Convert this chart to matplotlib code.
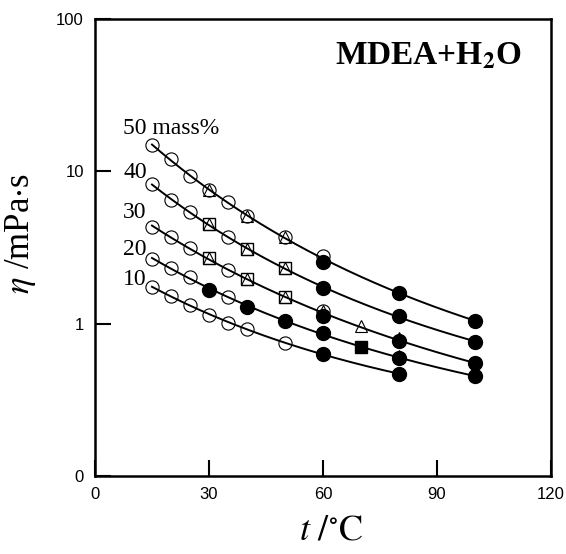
import matplotlib
matplotlib.use("Agg")
import matplotlib.pyplot as plt
import numpy as np

plt.rcParams["mathtext.fontset"] = "stix"
plt.rcParams["font.family"] = ["Liberation Serif", "DejaVu Serif"]

MASS_FRACTIONS = [50, 40, 30, 20, 10]

# open circles
t_open = {
    50: [15, 20, 25, 30, 35, 40, 50, 60],
    40: [15, 20, 25, 35],
    30: [15, 20, 25, 35, 60],
    20: [15, 20, 25, 35],
    10: [15, 20, 25, 30, 35, 40, 50],
}
eta_open = {
    50: [14.9, 12.0, 9.3, 7.5, 6.3, 5.1, 3.7, 2.78],
    40: [8.2, 6.5, 5.4, 3.7],
    30: [4.33, 3.69, 3.13, 2.25, 1.21],
    20: [2.66, 2.33, 2.03, 1.50],
    10: [1.73, 1.53, 1.33, 1.14, 1.015, 0.92, 0.75],
}

# filled circles
t_filled = {
    50: [60, 80, 100],
    40: [60, 80, 100],
    30: [60, 80, 100],
    20: [30, 40, 50, 60, 80, 100],
    10: [60, 80],
}
eta_filled = {
    50: [2.55, 1.585, 1.047],
    40: [1.71, 1.12, 0.762],
    30: [1.13, 0.774, 0.555],
    20: [1.665, 1.29, 1.047, 0.865, 0.593, 0.454],
    10: [0.632, 0.468],
}

# open squares
t_square = {40: [30, 40, 50], 30: [30, 40, 50]}
eta_square = {40: [4.51, 3.09, 2.31], 30: [2.69, 1.96, 1.50]}

# open triangles
t_tri = {
    50: [30, 40, 50],
    40: [30, 40, 50],
    30: [30, 40, 50, 60, 70, 80],
    20: [80],
}
eta_tri = {
    50: [7.5, 5.1, 3.7],
    40: [4.51, 3.09, 2.31],
    30: [2.69, 1.96, 1.50, 1.21, 0.97, 0.81],
    20: [0.61],
}

# filled squares
t_fsquare = {20: [70]}
eta_fsquare = {20: [0.706]}

series_labels = ["50 mass%", "40", "30", "20", "10"]
label_pos = [(7.4, 17.6), (7.4, 9.0), (7.4, 4.94), (7.4, 2.83), (7.4, 1.79)]


def fit_curve(w):
    ts, etas = [], []
    for td, ed in ((t_open, eta_open), (t_filled, eta_filled),
                   (t_square, eta_square), (t_fsquare, eta_fsquare)):
        ts += td.get(w, [])
        etas += ed.get(w, [])
    ts = np.array(ts, float)
    inv_T = 1.0 / (ts + 273.15)
    coef = np.polyfit(inv_T, np.log10(etas), 2)
    tt = np.linspace(ts.min(), ts.max(), 200)
    return tt, 10 ** np.polyval(coef, 1.0 / (tt + 273.15))


fig = plt.figure(figsize=(5.66, 5.54), dpi=100)
ax = fig.add_axes([0.1678, 0.1408, 0.8057, 0.8249])

for w in MASS_FRACTIONS:
    tt, ee = fit_curve(w)
    ax.plot(tt, ee, color="black", lw=1.4, zorder=2)
    ax.plot(t_open[w], eta_open[w], "o", ms=9.5, mfc="none", mec="black",
            mew=0.8, zorder=3)
    if w in t_square:
        ax.plot(t_square[w], eta_square[w], "s", ms=8, mfc="none",
                mec="black", mew=1.0, zorder=3)
    if w in t_tri:
        ax.plot(t_tri[w], eta_tri[w], "^", ms=8, mfc="none", mec="black",
                mew=0.8, zorder=3)
    ax.plot(t_filled[w], eta_filled[w], "o", ms=10, color="black", zorder=4)
    if w in t_fsquare:
        ax.plot(t_fsquare[w], eta_fsquare[w], "s", ms=8, color="black",
                zorder=4)

for text, (x, y) in zip(series_labels, label_pos):
    ax.text(x, y, text, fontsize=17, ha="left", va="baseline")

ax.text(0.526, 0.90, r"MDEA+H$_\mathbf{2}$O", transform=ax.transAxes,
        fontsize=24, fontweight="bold", ha="left", va="baseline")

ax.set_yscale("log")
ax.set_xlim(0, 120)
ax.set_ylim(0.1, 100)
ax.set_xticks([0, 30, 60, 90, 120])
ax.set_xticklabels(["0", "30", "60", "90", "120"], family="Liberation Sans")
ax.set_yticks([0.1, 1, 10, 100])
ax.set_yticklabels(["0", "1", "10", "100"], family="Liberation Sans")
ax.yaxis.set_minor_locator(matplotlib.ticker.NullLocator())
ax.tick_params(direction="in", length=11.5, width=1.5, labelsize=12)
ax.tick_params(axis="x", pad=8)
ax.tick_params(axis="y", pad=8)
for s in ax.spines.values():
    s.set_linewidth(1.8)

ax.set_ylabel(r"$\eta$ /mPa$\cdot$s", fontsize=25)
ax.yaxis.set_label_coords(-0.125, 0.53)
ax.set_xlabel(r"$t\ /^{\circ}\mathrm{C}$", fontsize=26)
ax.xaxis.set_label_coords(0.518, -0.085)

fig.savefig("out.png", dpi=100)
